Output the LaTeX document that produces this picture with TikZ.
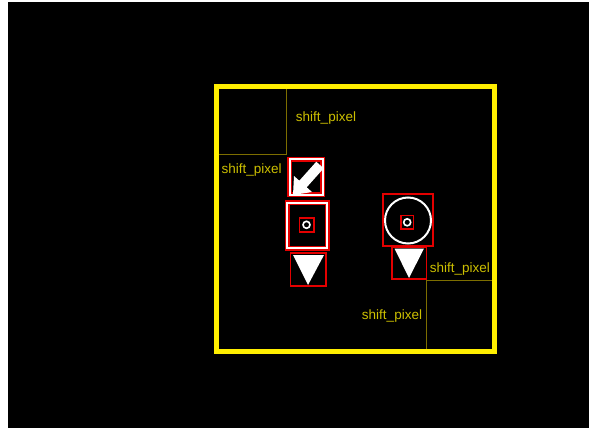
\documentclass[tikz,border=0pt]{standalone}
\usepackage{fontspec}
\setmainfont{Liberation Sans}
\definecolor{frameyel}{RGB}{255,238,0}
\definecolor{olive}{RGB}{125,110,0}
\definecolor{labelyel}{RGB}{205,192,0}
\definecolor{boxred}{RGB}{228,0,0}
\tikzset{
  lbl/.style={text=labelyel,inner sep=0pt,font=\fontsize{13.5}{15}\selectfont},
  guide/.style={draw=olive,line width=1pt},
  redbox/.style={draw=boxred,line width=1.6pt},
  dblout/.style={draw=boxred,line width=5pt},
  dblin/.style={draw=white,line width=2pt},
  ring/.style={draw=white,line width=1.6pt}
}
\begin{document}
\begin{tikzpicture}[x=1pt,y=-1pt]
\useasboundingbox (0,0) rectangle (589,428);
\fill[white] (0,0) rectangle (589,428);
\fill[black] (8,2) rectangle (589,428);
% main frame
\draw[draw=frameyel,line width=5pt] (216.5,86.5) rectangle (494,351);
% guide lines
\coordinate (g1a) at (286.6,89);
\coordinate (g1b) at (286.6,154.8);
\coordinate (g1c) at (219,154.8);
\draw[guide] (g1a) -- (g1b) -- (g1c);
\coordinate (g2a) at (491.5,280.8);
\coordinate (g2b) at (426.4,280.8);
\coordinate (g2c) at (426.4,348.5);
\draw[guide] (g2a) -- (g2b) -- (g2c);
% labels
\node[lbl] (l1) at (326,118) {shift\_pixel};
\node[lbl] (l2) at (251.6,170.5) {shift\_pixel};
\node[lbl] (l3) at (459.8,269) {shift\_pixel};
\node[lbl] (l4) at (392,316) {shift\_pixel};
% arrow box
\draw[dblout] (289.9,159) rectangle (322.5,194.8);
\draw[dblin] (289.9,159) rectangle (322.5,194.8);
\fill[white] (293,195) -- (312,192) -- (306.7,187.3) -- (323.7,168.3) -- (316.3,161.7) -- (299.3,180.7) -- (294,176) -- cycle;
% square box
\draw[dblout] (287.3,202.5) rectangle (327.3,248.3);
\draw[dblin] (287.3,202.5) rectangle (327.3,248.3);
\draw[redbox] (299.4,218) rectangle (313.7,231.7);
\draw[ring] (306.5,224.8) circle (3.5);
% left triangle
\draw[redbox] (290.4,253) rectangle (326,286);
\fill[white] (293,255) -- (324,255) -- (308,285) -- cycle;
% circle box
\draw[redbox] (383.2,194) rectangle (432.8,245.7);
\draw[draw=white,line width=2pt] (408,220.5) circle (23);
\draw[redbox] (400.8,215.6) rectangle (413.6,229);
\draw[ring] (407.2,222.3) circle (3.5);
% right triangle
\draw[redbox] (391.8,246.7) rectangle (426.4,279.2);
\fill[white] (394.5,248.5) -- (424,248.5) -- (409,278) -- cycle;
\end{tikzpicture}
\end{document}
